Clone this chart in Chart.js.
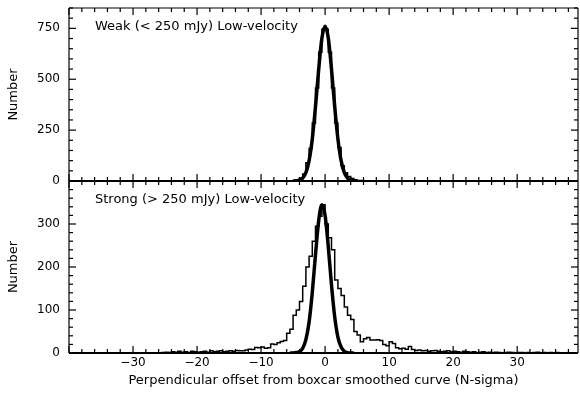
<!DOCTYPE html>
<html lang="en">
<head>
    <meta charset="UTF-8">
    <title>Perpendicular offset histograms</title>
    <script src="https://cdn.jsdelivr.net/npm/chart.js"></script>
    <style>
        body { margin: 0; background: #fff; }
        #wrap { position: relative; width: 580px; height: 394px; }
        canvas { position: absolute; left: 0; top: 0; }
    </style>
</head>
<body>
<div id="wrap">
    <canvas id="weak" width="580" height="394"></canvas>
    <canvas id="strong" width="580" height="394"></canvas>
</div>
<script>
    // histograms: bin width 0.5, first bin left edge given
    const binWidth = 0.5;
    const weakFirstEdge = -6;
    const weakCounts = [
        0, 1, 2, 5, 15, 35, 90, 160, 285, 457, 633, 745, 745,
        633, 457, 285, 165, 75, 40, 22, 12, 6, 3, 2, 1, 0
    ];
    const strongFirstEdge = -26;
    const strongCounts = [
        0, 1, 2, 1, 3, 2, 4, 2, 3, 1, 4, 3, 2, 3, 4, 2,
        5, 3, 4, 5, 3, 4, 5, 4, 6, 5, 5, 7, 9, 8, 13, 12,
        14, 11, 12, 21, 20, 24, 27, 29, 46, 55, 88, 100, 120, 155,
        200, 225, 260, 295, 318, 345, 300, 268, 240, 170, 150, 134, 107, 88,
        78, 50, 42, 26, 33, 36, 30, 30, 31, 29, 20, 17, 26, 22,
        12, 10, 11, 9, 15, 8, 6, 7, 5, 6, 4, 5, 6, 4,
        3, 4, 5, 3, 4, 3, 2, 4, 3, 2, 3, 1, 2, 3,
        1, 2, 1, 2, 1, 0, 1, 2, 1, 0, 1, 1, 0, 1,
        0, 1, 2, 0, 1, 0, 1, 0, 1, 0
    ];

    // fitted curves
    const weakFitX = [-5, -4.5, -4, -3.5, -3, -2.5, -2, -1.5, -1, -0.5, 0,
        0.5, 1, 1.5, 2, 2.5, 3, 3.5, 4, 4.5, 5];
    const weakFitY = [0, 1, 4, 14, 41, 100, 207, 366, 549, 701, 760,
        701, 549, 366, 207, 100, 41, 14, 4, 1, 0];
    const strongFitX = [-5.5, -5, -4.5, -4, -3.5, -3, -2.5, -2, -1.5, -1, -0.5,
        0, 0.5, 1, 1.5, 2, 2.5, 3, 3.5, 4, 4.5];
    const strongFitY = [0, 0, 1, 3, 11, 31, 72, 141, 229, 308, 345,
        320, 247, 158, 84, 37, 14, 4, 1, 0, 0];

    const xLabels = [-30, -20, -10, 0, 10, 20, 30];
    const weakYLabels = [0, 250, 500, 750];
    const strongYLabels = [0, 100, 200, 300];

    const tickFont = { family: 'DejaVu Sans', size: 12 };
    const textFont = { family: 'DejaVu Sans', size: 13 };
    Chart.defaults.color = '#000';

    function histPoints(firstEdge, counts) {
        const pts = counts.map((c, i) => ({ x: firstEdge + i * binWidth, y: c }));
        pts.push({ x: firstEdge + counts.length * binWidth, y: 0 });
        return pts;
    }

    function fitPoints(xs, ys) {
        return xs.map((x, i) => ({ x: x, y: ys[i] }));
    }

    function minus(v) {
        return String(v).replace('-', '\u2212');
    }

    // frame, inward ticks and panel caption
    const frame = {
        id: 'frame',
        afterDraw(chart, args, opts) {
            const { ctx, chartArea: a, scales: { x, y } } = chart;
            ctx.save();
            ctx.strokeStyle = '#000';
            const seg = (x1, y1, x2, y2) => {
                ctx.beginPath(); ctx.moveTo(x1, y1); ctx.lineTo(x2, y2); ctx.stroke();
            };
            ctx.lineWidth = 1.2;
            seg(a.left, a.top, a.right, a.top);
            seg(a.left, a.top, a.left, a.bottom);
            seg(a.right, a.top, a.right, a.bottom);
            ctx.lineWidth = 2;
            seg(a.left, a.bottom, a.right, a.bottom);

            ctx.lineWidth = 1.2;
            for (let v = -40; v <= x.max; v += 2) {
                const px = x.getPixelForValue(v);
                const len = v % 10 === 0 ? 7 : 4;
                seg(px, a.bottom, px, a.bottom - len);
                seg(px, a.top, px, a.top + len);
            }
            for (let v = 0; v <= y.max; v += opts.minor) {
                const py = y.getPixelForValue(v);
                const len = v % opts.major === 0 ? 7 : 4;
                seg(a.left, py, a.left + len, py);
                seg(a.right, py, a.right - len, py);
            }

            ctx.fillStyle = '#000';
            ctx.font = '13px "DejaVu Sans"';
            ctx.textBaseline = 'middle';
            ctx.fillText(opts.caption, a.left + 26, a.top + 19);
            ctx.restore();
        }
    };

    function makeChart(id, hist, fit, yMax, yLabels, minor, major, caption, isBottom) {
        return new Chart(document.getElementById(id), {
            type: 'line',
            data: {
                datasets: [{
                    data: hist,
                    borderColor: '#000',
                    borderWidth: 1.5,
                    stepped: true,
                    pointRadius: 0
                }, {
                    data: fit,
                    borderColor: '#000',
                    borderWidth: 3.5,
                    cubicInterpolationMode: 'monotone',
                    pointRadius: 0
                }]
            },
            options: {
                responsive: false,
                animation: false,
                layout: {
                    padding: isBottom
                        ? { top: 181, right: 2, bottom: 0, left: 0 }
                        : { top: 8, right: 2, bottom: 213, left: 0 }
                },
                plugins: {
                    legend: { display: false },
                    tooltip: { enabled: false },
                    frame: { caption: caption, minor: minor, major: major }
                },
                scales: {
                    x: {
                        type: 'linear',
                        min: -40,
                        max: 39.5,
                        grid: { display: false, drawTicks: false },
                        border: { display: false },
                        ticks: {
                            display: isBottom,
                            stepSize: 10,
                            autoSkip: false,
                            padding: 3,
                            font: tickFont,
                            callback: v => xLabels.includes(v) ? minus(v) : ''
                        },
                        title: {
                            display: isBottom,
                            text: 'Perpendicular offset from boxcar smoothed curve (N-sigma)',
                            font: textFont,
                            padding: { top: 0, bottom: 6 }
                        },
                        afterFit(s) {
                            s.height = isBottom ? 41 : 0;
                            s.paddingLeft = 0;
                            s.paddingRight = 0;
                        }
                    },
                    y: {
                        min: 0,
                        max: yMax,
                        grid: { display: false, drawTicks: false },
                        border: { display: false },
                        ticks: {
                            stepSize: major,
                            padding: 9,
                            font: tickFont,
                            callback: v => yLabels.includes(v) ? String(v) : ''
                        },
                        title: {
                            display: true,
                            text: 'Number',
                            font: textFont,
                            padding: { top: 6, bottom: 0 }
                        },
                        afterFit(s) {
                            s.width = 69;
                            s.paddingTop = 0;
                            s.paddingBottom = 0;
                        }
                    }
                }
            },
            plugins: [frame]
        });
    }

    makeChart('weak', histPoints(weakFirstEdge, weakCounts), fitPoints(weakFitX, weakFitY),
        850, weakYLabels, 50, 250, 'Weak (< 250 mJy) Low-velocity', false);
    makeChart('strong', histPoints(strongFirstEdge, strongCounts), fitPoints(strongFitX, strongFitY),
        400, strongYLabels, 20, 100, 'Strong (> 250 mJy) Low-velocity', true);
</script>
</body>
</html>
